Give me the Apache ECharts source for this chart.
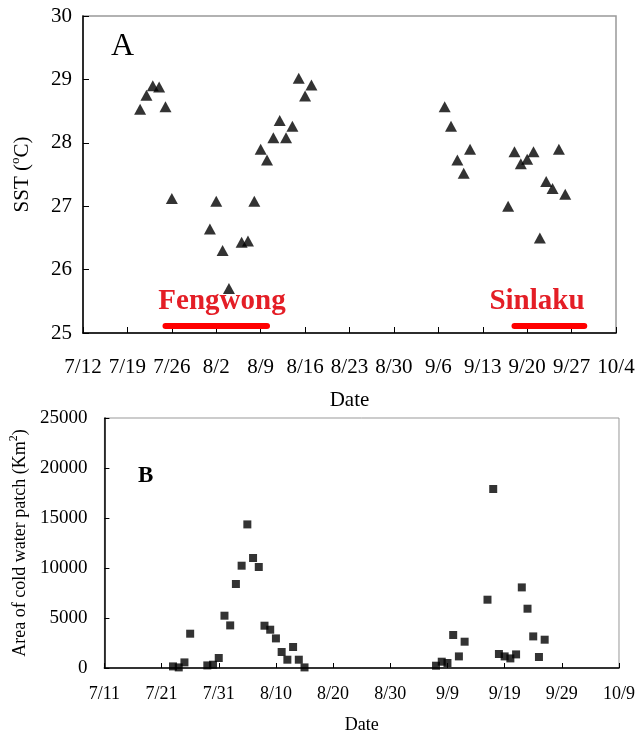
<!DOCTYPE html>
<html>
<head>
<meta charset="utf-8">
<title>SST and cold water patch</title>
<script src="https://cdn.jsdelivr.net/npm/echarts@6/dist/echarts.min.js"></script>
<style>
html,body{margin:0;padding:0;background:#fff;}
#main{width:638px;height:736px;}
</style>
</head>
<body>
<div id="main"></div>
<script>
// panel A: sea surface temperature
var sstDates = ['7/21','7/22','7/23','7/24','7/25','7/26','8/1','8/2','8/3','8/4','8/6','8/7','8/8',
    '8/9','8/10','8/11','8/12','8/13','8/14','8/15','8/16','8/17',
    '9/7','9/8','9/9','9/10','9/11','9/17','9/18','9/19','9/20','9/21','9/22','9/23','9/24','9/25','9/26'];
var sstValues = [28.53,28.75,28.90,28.88,28.57,27.12,26.64,27.08,26.30,25.70,26.43,26.45,27.08,
    27.90,27.73,28.08,28.35,28.08,28.26,29.02,28.74,28.91,
    28.57,28.26,27.73,27.52,27.90,27.00,27.86,27.67,27.74,27.86,26.50,27.39,27.28,27.90,27.19];

// panel B: area of cold water patch (km2)
var areaDates = ['7/23','7/24','7/25','7/26','7/29','7/30','7/31','8/1','8/2','8/3','8/4','8/5','8/6',
    '8/7','8/8','8/9','8/10','8/11','8/12','8/13','8/14','8/15',
    '9/7','9/8','9/9','9/10','9/11','9/12','9/16','9/17','9/18','9/19','9/20','9/21','9/22','9/23',
    '9/24','9/25','9/26'];
var areaValues = [160,60,560,3430,260,330,1000,5230,4260,8400,10230,14360,11000,
    10100,4230,3830,2960,1600,830,2100,830,60,
    230,630,500,3300,1160,2630,6830,17900,1400,1160,960,1360,8060,5930,
    3160,1100,2830];

// tick labels
var topTickLabels = ['7/12','7/19','7/26','8/2','8/9','8/16','8/23','8/30','9/6','9/13','9/20','9/27','10/4'];
var bottomTickLabels = ['7/11','7/21','7/31','8/10','8/20','8/30','9/9','9/19','9/29','10/9'];

// typhoon periods
var fengwongDates = ['7/25','8/10'];
var sinlakuDates = ['9/18','9/29'];

var serif = "'Liberation Serif','DejaVu Serif',serif";

function dayOffset(md, start) {
    var a = md.split('/'), b = start.split('/');
    return (Date.UTC(2008, a[0]-1, +a[1]) - Date.UTC(2008, b[0]-1, +b[1])) / 86400000;
}
function pairs(dates, values, start) {
    var out = [];
    for (var i=0;i<dates.length;++i) out.push([dayOffset(dates[i], start), values[i]]);
    return out;
}
function period(dates, start, level) {
    return [[dayOffset(dates[0], start), level], [dayOffset(dates[1], start), level]];
}

var chart = echarts.init(document.getElementById('main'), null, {renderer:'canvas'});

var axisLine = {show:true, onZero:false, lineStyle:{color:'#000', width:1.5}};

var option = {
    animation: false,
    backgroundColor: '#fff',
    grid: [
        {left:83, top:16, width:533, height:317, show:true, borderColor:'#999', borderWidth:1.5},
        {left:104, top:418, width:515, height:250, show:true, borderColor:'#999', borderWidth:1}
    ],
    xAxis: [{
        gridIndex: 0, type: 'value', min: 0, max: 84, interval: 7,
        name: 'Date', nameLocation: 'middle', nameGap: 57,
        nameTextStyle: {fontFamily: serif, fontSize: 21, color: '#000'},
        axisLine: axisLine,
        axisTick: {inside: true, length: 6, lineStyle: {color: '#000'}},
        axisLabel: {fontFamily: serif, fontSize: 21, color: '#000', margin: 24,
            formatter: function(v){ return topTickLabels[Math.round(v/7)]; }},
        splitLine: {show: false}
    }, {
        gridIndex: 1, type: 'value', min: 0, max: 90, interval: 10,
        name: 'Date', nameLocation: 'middle', nameGap: 48,
        nameTextStyle: {fontFamily: serif, fontSize: 18, color: '#000'},
        axisLine: axisLine,
        axisTick: {inside: true, length: 5, lineStyle: {color: '#000'}},
        axisLabel: {fontFamily: serif, fontSize: 18, color: '#000', margin: 17,
            formatter: function(v){ return bottomTickLabels[Math.round(v/10)]; }},
        splitLine: {show: false}
    }],
    yAxis: [{
        gridIndex: 0, type: 'value', min: 25, max: 30, interval: 1,
        name: '{n|SST (}{sup|o}{n|C)}', nameLocation: 'middle', nameGap: 50,
        nameTextStyle: {fontFamily: serif, fontSize: 21, color: '#000',
            rich: {
                n: {fontFamily: serif, fontSize: 21, color: '#000', lineHeight: 24, verticalAlign: 'bottom'},
                sup: {fontFamily: serif, fontSize: 13, color: '#000', lineHeight: 24, verticalAlign: 'bottom', padding: [0, 0, 11, 0]}
            }},
        axisLine: axisLine,
        axisTick: {inside: true, length: 6, lineStyle: {color: '#000'}},
        axisLabel: {fontFamily: serif, fontSize: 21, color: '#000', margin: 11},
        splitLine: {show: false}
    }, {
        gridIndex: 1, type: 'value', min: 0, max: 25000, interval: 5000,
        name: '{n|Area of cold water patch (Km}{sup|2}{n|)}', nameLocation: 'middle', nameGap: 66,
        nameTextStyle: {fontFamily: serif, fontSize: 18, color: '#000',
            rich: {
                n: {fontFamily: serif, fontSize: 18, color: '#000', lineHeight: 21, verticalAlign: 'bottom'},
                sup: {fontFamily: serif, fontSize: 12, color: '#000', lineHeight: 21, verticalAlign: 'bottom', padding: [0, 0, 9, 0]}
            }},
        axisLine: axisLine,
        axisTick: {inside: true, length: 5, lineStyle: {color: '#000'}},
        axisLabel: {fontFamily: serif, fontSize: 19, color: '#000', margin: 17,
            formatter: function(v){ return String(v); }},
        splitLine: {show: false}
    }],
    series: [{
        type: 'scatter', xAxisIndex: 0, yAxisIndex: 0,
        symbol: 'triangle', symbolSize: [12, 11],
        itemStyle: {color: '#000'},
        data: pairs(sstDates, sstValues, '7/12')
    }, {
        type: 'line', xAxisIndex: 0, yAxisIndex: 0, silent: true, symbol: 'none',
        lineStyle: {color: '#ff0000', width: 6, cap: 'round'},
        data: period(fengwongDates, '7/12', 25.11)
    }, {
        type: 'line', xAxisIndex: 0, yAxisIndex: 0, silent: true, symbol: 'none',
        lineStyle: {color: '#ff0000', width: 6, cap: 'round'},
        data: period(sinlakuDates, '7/12', 25.11)
    }, {
        type: 'scatter', xAxisIndex: 1, yAxisIndex: 1,
        symbol: 'rect', symbolSize: 8,
        itemStyle: {color: '#000'},
        data: pairs(areaDates, areaValues, '7/11')
    }],
    graphic: [
        {type:'text', left:111, top:31, style:{text:'A', font:'32px ' + serif, fill:'#000'}},
        {type:'text', x:222, y:302, style:{text:'Fengwong', font:'bold 29px ' + serif, fill:'#e41e26', align:'center', verticalAlign:'middle'}},
        {type:'text', x:537, y:302, style:{text:'Sinlaku', font:'bold 29px ' + serif, fill:'#e41e26', align:'center', verticalAlign:'middle'}},
        {type:'text', x:138, y:476, style:{text:'B', font:'bold 23px ' + serif, fill:'#000', verticalAlign:'middle'}}
    ]
};
chart.setOption(option);
</script>
</body>
</html>
